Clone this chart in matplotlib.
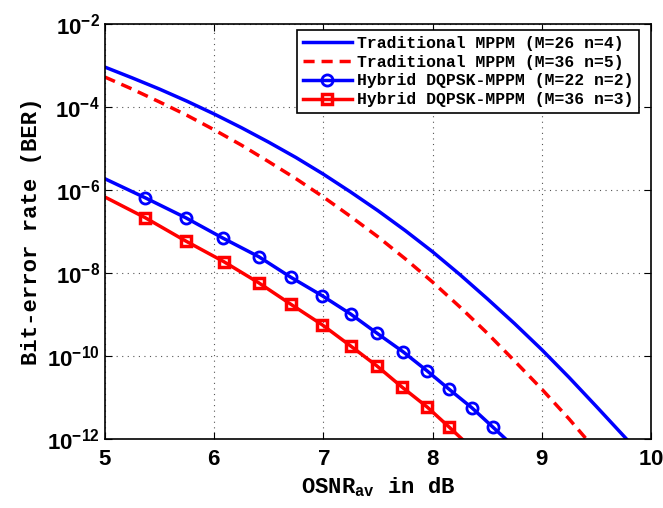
import numpy as np
import matplotlib
matplotlib.use("Agg")
import matplotlib.pyplot as plt
from matplotlib.ticker import FixedLocator, FuncFormatter

plt.rcParams['font.family'] = ['Liberation Mono', 'DejaVu Sans Mono']
plt.rcParams['font.weight'] = 'bold'
plt.rcParams['mathtext.fontset'] = 'custom'
plt.rcParams['mathtext.rm'] = 'Liberation Mono:bold'
plt.rcParams['mathtext.bf'] = 'Liberation Sans:bold'

# Traditional MPPM (M=26 n=4) - log10(BER)
osnr_trad26 = [5.0, 5.25, 5.5, 5.75, 6.0, 6.25, 6.5, 6.75, 7.0, 7.25, 7.5, 7.75,
               8.0, 8.25, 8.5, 8.75, 9.0, 9.25, 9.5, 9.75, 10.0]
logber_trad26 = [-3.04, -3.30, -3.57, -3.86, -4.17, -4.50, -4.85, -5.22, -5.62, -6.05, -6.50, -6.98,
                 -7.49, -8.04, -8.62, -9.22, -9.85, -10.52, -11.22, -11.93, -12.65]

# Traditional MPPM (M=36 n=5)
osnr_trad36 = [5.0, 5.25, 5.5, 5.75, 6.0, 6.25, 6.5, 6.75, 7.0, 7.25, 7.5, 7.75,
               8.0, 8.25, 8.5, 8.75, 9.0, 9.25, 9.4, 9.6]
logber_trad36 = [-3.28, -3.57, -3.88, -4.20, -4.55, -4.92, -5.32, -5.73, -6.17, -6.64, -7.13, -7.66,
                 -8.22, -8.82, -9.45, -10.12, -10.80, -11.52, -11.98, -12.6]

# Hybrid DQPSK-MPPM (M=22 n=2)
osnr_hyb22 = [5.0, 5.37, 5.74, 6.08, 6.41, 6.70, 6.99, 7.25, 7.49, 7.73, 7.95, 8.15, 8.36, 8.55, 8.75]
logber_hyb22 = [-5.73, -6.19, -6.67, -7.16, -7.61, -8.10, -8.55, -8.99, -9.45, -9.90, -10.36, -10.80, -11.25, -11.71, -12.2]

# Hybrid DQPSK-MPPM (M=36 n=3)
osnr_hyb36 = [5.0, 5.37, 5.74, 6.09, 6.41, 6.70, 6.99, 7.25, 7.49, 7.72, 7.95, 8.15, 8.35]
logber_hyb36 = [-6.17, -6.67, -7.23, -7.73, -8.24, -8.75, -9.25, -9.76, -10.24, -10.75, -11.23, -11.71, -12.2]

fig = plt.figure(figsize=(6.63, 5.08), dpi=100)
ax = fig.add_axes([0.158, 0.136, 0.824, 0.817])

lw = 2.5
ax.semilogy(osnr_trad26, 10.0 ** np.array(logber_trad26), color='#0000ff', lw=lw,
            label='Traditional MPPM (M=26 n=4)')
ax.semilogy(osnr_trad36, 10.0 ** np.array(logber_trad36), color='#ff0000', lw=lw,
            dashes=(3.2, 2.0), label='Traditional MPPM (M=36 n=5)')
ax.semilogy(osnr_hyb22, 10.0 ** np.array(logber_hyb22), color='#0000ff', lw=lw,
            marker='o', ms=8, mfc='none', mew=2,
            markevery=list(range(1, len(osnr_hyb22) - 1)),
            label='Hybrid DQPSK-MPPM (M=22 n=2)')
ax.semilogy(osnr_hyb36, 10.0 ** np.array(logber_hyb36), color='#ff0000', lw=lw,
            marker='s', ms=7, mfc='none', mew=2.5,
            markevery=list(range(1, len(osnr_hyb36) - 1)),
            label='Hybrid DQPSK-MPPM (M=36 n=3)')

ax.set_xlim(5, 10)
ax.set_ylim(1e-12, 1e-2)
ax.xaxis.set_major_locator(FixedLocator([5, 6, 7, 8, 9, 10]))
ax.yaxis.set_major_locator(FixedLocator([1e-12, 1e-10, 1e-8, 1e-6, 1e-4, 1e-2]))
ax.yaxis.set_minor_locator(FixedLocator([]))
ax.xaxis.set_major_formatter(FuncFormatter(lambda v, p: r'$\mathbf{%d}$' % v))
ax.yaxis.set_major_formatter(FuncFormatter(lambda v, p: r'$\mathbf{10^{%d}}$' % round(np.log10(v))))
ax.tick_params(which='both', direction='in', top=True, right=True, labelsize=16, length=5)
ax.tick_params(axis='x', pad=7)
for s in ax.spines.values():
    s.set_linewidth(1.2)
ax.grid(True, which='major', color='#555555', linestyle=(0, (1, 4)), lw=0.8)

ax.set_xlabel(r'OSNR$_{\mathrm{av}}$ in dB', fontsize=16, fontweight='bold')
ax.set_ylabel('Bit-error rate (BER)', fontsize=16, fontweight='bold')

leg = ax.legend(loc='upper right', bbox_to_anchor=(0.978, 0.9855), fontsize=11.8,
                frameon=True, fancybox=False, edgecolor='black', framealpha=1,
                handlelength=3.0, borderaxespad=0, labelspacing=0.24,
                handletextpad=0.3, borderpad=0.35)
leg.get_frame().set_linewidth(1.2)

fig.savefig('out.png', dpi=100)
